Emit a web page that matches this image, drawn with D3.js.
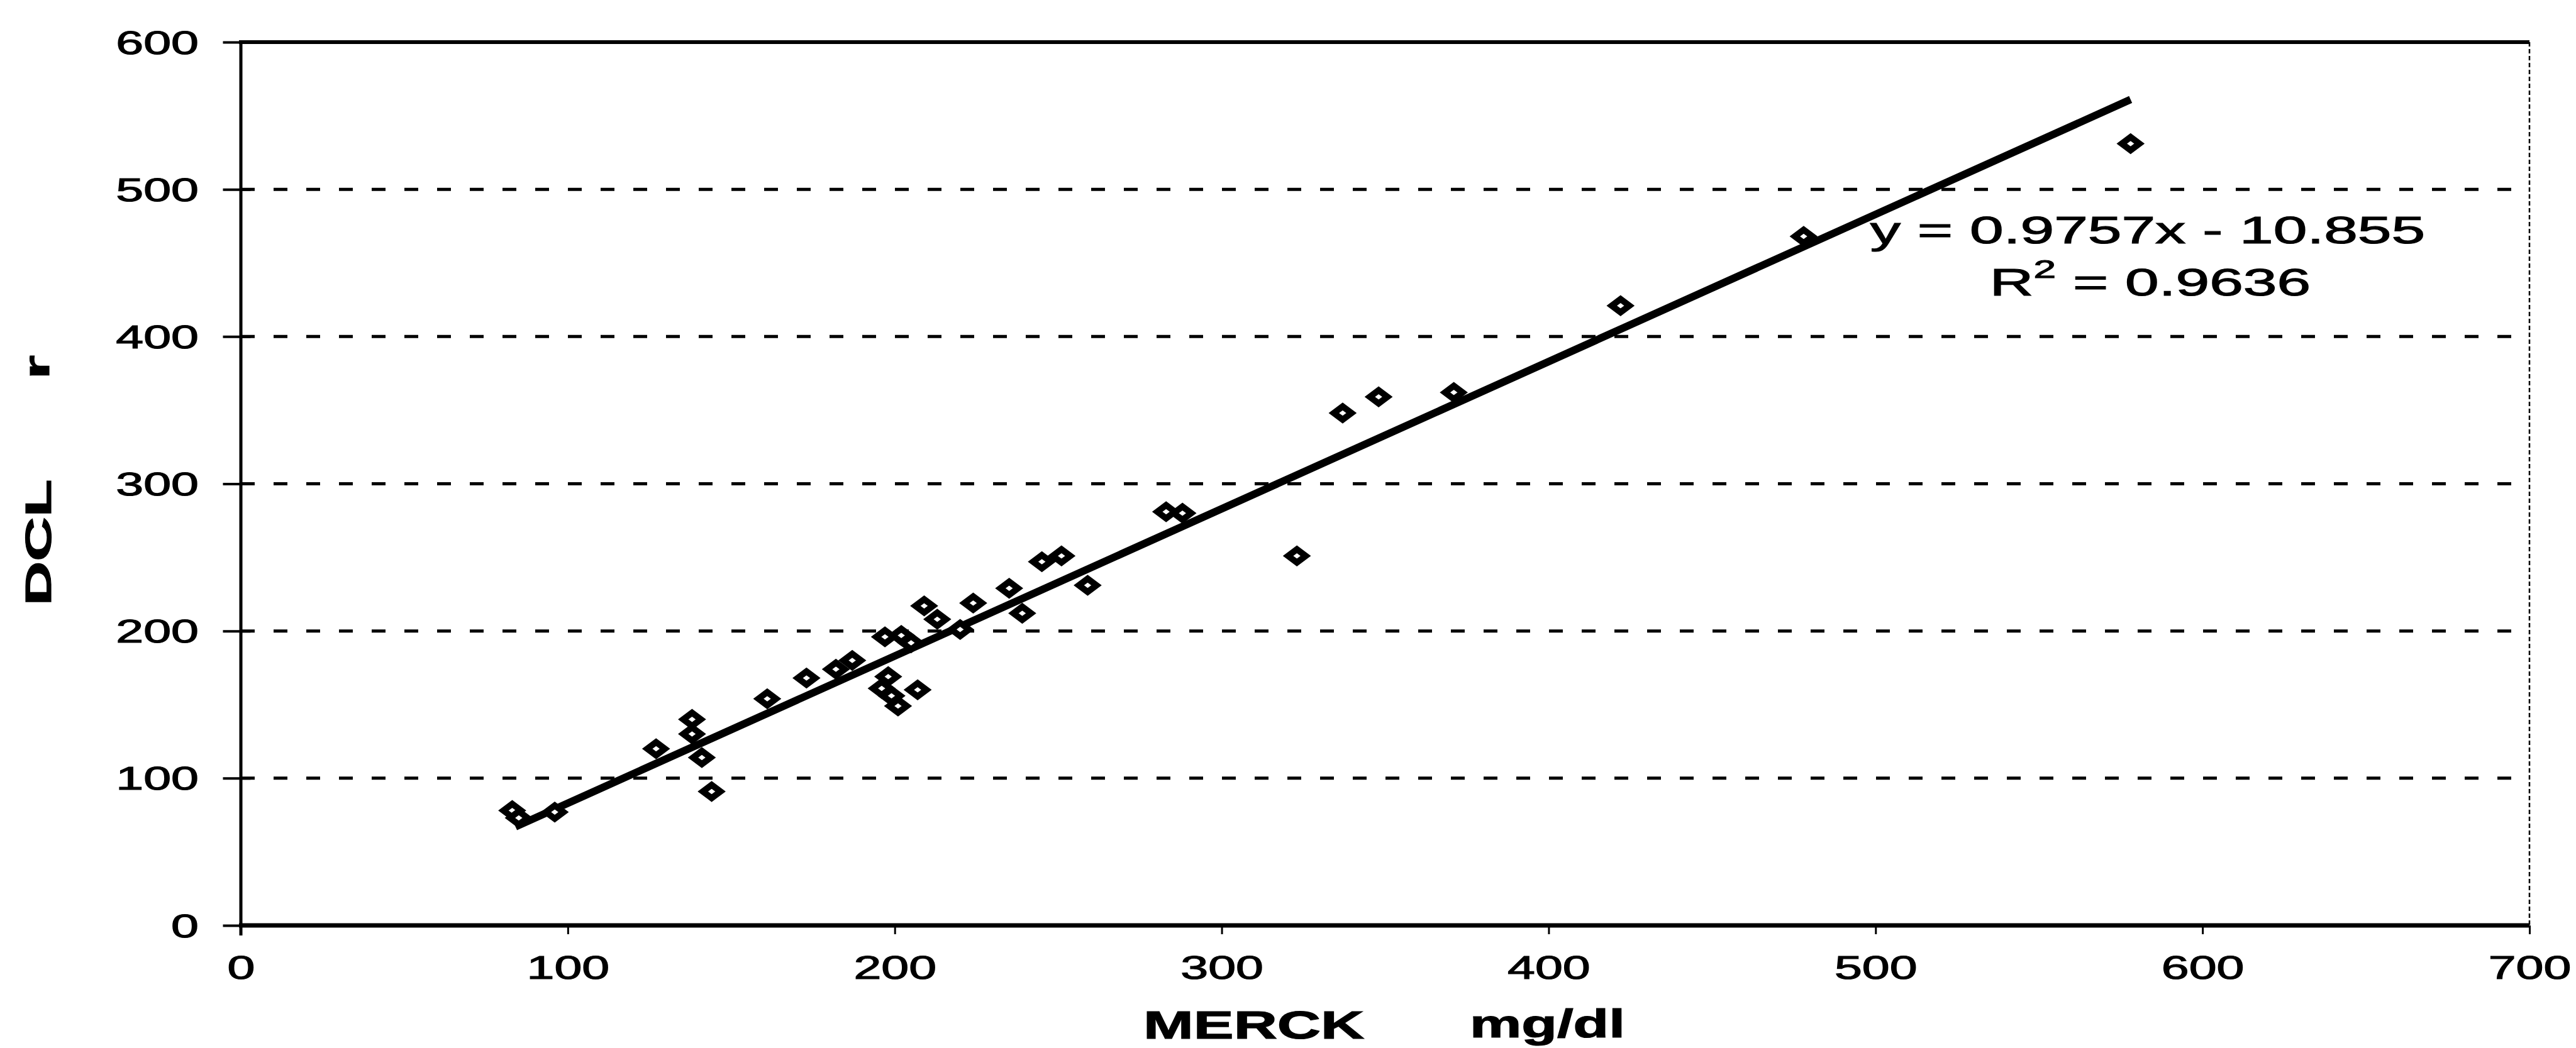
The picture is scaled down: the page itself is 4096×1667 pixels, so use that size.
<!DOCTYPE html>
<html>
<head>
<meta charset="utf-8">
<script src="https://cdn.jsdelivr.net/npm/d3@7"></script>
<style>
body { margin: 0; background: #fff; }
text { font-family: "Liberation Sans", Arial, sans-serif; fill: #000; stroke: #000; stroke-width: 1.2px; }
</style>
</head>
<body>
<div id="chart"></div>
<script>

var merck = [83, 85, 96, 127, 138, 138, 141, 144, 161, 173, 182, 187, 198, 196, 199, 201, 207,
             197, 202, 205, 209, 213, 220, 224, 235, 239, 245, 251, 259, 283, 288, 323, 337,
             348, 371, 422, 478, 578];
var dcl = [78, 73, 77, 120, 140, 130, 114, 91, 154, 168, 174, 180, 169, 161, 156, 149, 160,
           196, 197, 192, 217, 208, 201, 219, 229, 212, 247, 251, 231, 281, 280, 251, 348,
           359, 362, 421, 468, 531];

// trend line ends as drawn
var trendX = [84, 578];
var trendY = [67, 561];

var xTicks = [0, 100, 200, 300, 400, 500, 600, 700];
var yTicks = [0, 100, 200, 300, 400, 500, 600];

var equation = "y = 0.9757x - 10.855";
var rSquared = "0.9636";
var xTitle = ["MERCK", "mg/dl"];
var yTitle = ["DCL", "r"];

var width = 4096;
var height = 1667;
var plot = {left: 383, right: 4022, top: 67, bottom: 1472};

var svg = d3.select("#chart")
    .append("svg")
    .attr("width", width)
    .attr("height", height);

var xScale = d3.scaleLinear()
    .domain([0, 700])
    .range([plot.left, plot.right]);

var yScale = d3.scaleLinear()
    .domain([0, 600])
    .range([plot.bottom, plot.top]);

// dashed gridlines
svg.selectAll(".grid")
    .data(yTicks.filter(function(d) { return d > 0 && d < 600; }))
    .enter()
    .append("line")
    .attr("class", "grid")
    .attr("x1", xScale(0))
    .attr("x2", xScale(700))
    .attr("y1", function(d) { return yScale(d); })
    .attr("y2", function(d) { return yScale(d); })
    .attr("stroke", "#000")
    .attr("stroke-width", 5)
    .attr("stroke-dasharray", "22,30");

// frame
svg.append("line")
    .attr("x1", xScale(0) - 3).attr("x2", xScale(700))
    .attr("y1", yScale(600)).attr("y2", yScale(600))
    .attr("stroke", "#000").attr("stroke-width", 6);

svg.append("line")
    .attr("x1", xScale(700)).attr("x2", xScale(700))
    .attr("y1", yScale(600)).attr("y2", yScale(0))
    .attr("stroke", "#000").attr("stroke-width", 2.5)
    .attr("stroke-dasharray", "7,4");

var xAxis = svg.append("g")
    .attr("transform", "translate(0," + plot.bottom + ")")
    .call(d3.axisBottom(xScale).tickValues(xTicks).tickSize(14).tickFormat(d3.format("d")));

xAxis.attr("font-size", null).attr("font-family", null);
xAxis.select(".domain").remove();
xAxis.selectAll("line").attr("stroke-width", 3);
xAxis.selectAll("text")
    .attr("y", null)
    .attr("dy", null)
    .attr("transform", "translate(0,85) scale(1.5,1)")
    .style("font-size", "52.6px");

var yAxis = svg.append("g")
    .attr("transform", "translate(" + plot.left + ",0)")
    .call(d3.axisLeft(yScale).tickValues(yTicks).tickSize(28.5).tickFormat(d3.format("d")));

yAxis.attr("font-size", null).attr("font-family", null);
yAxis.select(".domain").remove();
yAxis.selectAll("line").attr("x1", 15.5).attr("stroke-width", 4);
yAxis.selectAll("text")
    .attr("x", null)
    .attr("dy", null)
    .attr("transform", "translate(-67,18) scale(1.5,1)")
    .style("font-size", "52.6px");

svg.append("line")
    .attr("x1", xScale(0)).attr("x2", xScale(0))
    .attr("y1", yScale(600) - 3).attr("y2", yScale(0) + 16)
    .attr("stroke", "#000").attr("stroke-width", 5);

svg.append("line")
    .attr("x1", xScale(0) - 3).attr("x2", xScale(700))
    .attr("y1", yScale(0)).attr("y2", yScale(0))
    .attr("stroke", "#000").attr("stroke-width", 7);

// trend line
var line = d3.line()
    .x(function(d) { return xScale(d[0]); })
    .y(function(d) { return yScale(d[1]); });

svg.append("path")
    .datum(d3.zip(trendX, trendY))
    .attr("d", line)
    .attr("fill", "none")
    .attr("stroke", "#000")
    .attr("stroke-width", 12);

function diamond(cx, cy) {
    var a = 14, b = 10.5;
    return "M" + (cx - a) + "," + cy + "L" + cx + "," + (cy - b) +
           "L" + (cx + a) + "," + cy + "L" + cx + "," + (cy + b) + "Z";
}

svg.selectAll(".dot")
    .data(d3.zip(merck, dcl))
    .enter()
    .append("path")
    .attr("class", "dot")
    .attr("d", function(d) { return diamond(xScale(d[0]), yScale(d[1])); })
    .attr("fill", "#fff")
    .attr("stroke", "#000")
    .attr("stroke-width", 10)
    .attr("stroke-linejoin", "miter");

// regression label
svg.append("text")
    .attr("transform", "translate(3415,386.6) scale(1.574,1)")
    .attr("text-anchor", "middle")
    .style("font-size", "61.3px")
    .text(equation);

var r2 = svg.append("text")
    .attr("transform", "translate(3419,470.3) scale(1.574,1)")
    .attr("text-anchor", "middle")
    .style("font-size", "61.3px");
r2.append("tspan").text("R");
r2.append("tspan").attr("dy", -28.4).style("font-size", "40.6px").text("2");
r2.append("tspan").attr("dy", 28.4).text(" = " + rSquared);

// axis titles
svg.append("text")
    .attr("transform", "translate(1818,1652) scale(1.52,1)")
    .style("font-size", "63px")
    .style("font-weight", "bold")
    .text(xTitle[0]);

svg.append("text")
    .attr("transform", "translate(2337,1650) scale(1.47,1)")
    .style("font-size", "63px")
    .style("font-weight", "bold")
    .text(xTitle[1]);

svg.append("text")
    .attr("transform", "translate(81,863) rotate(-90) scale(1.69,1)")
    .attr("text-anchor", "middle")
    .style("font-size", "57.8px")
    .style("font-weight", "bold")
    .text(yTitle[0]);

svg.append("text")
    .attr("transform", "translate(78,584) rotate(-90) scale(1.69,1)")
    .attr("text-anchor", "middle")
    .style("font-size", "57.8px")
    .style("font-weight", "bold")
    .text(yTitle[1]);

</script>
</body>
</html>
